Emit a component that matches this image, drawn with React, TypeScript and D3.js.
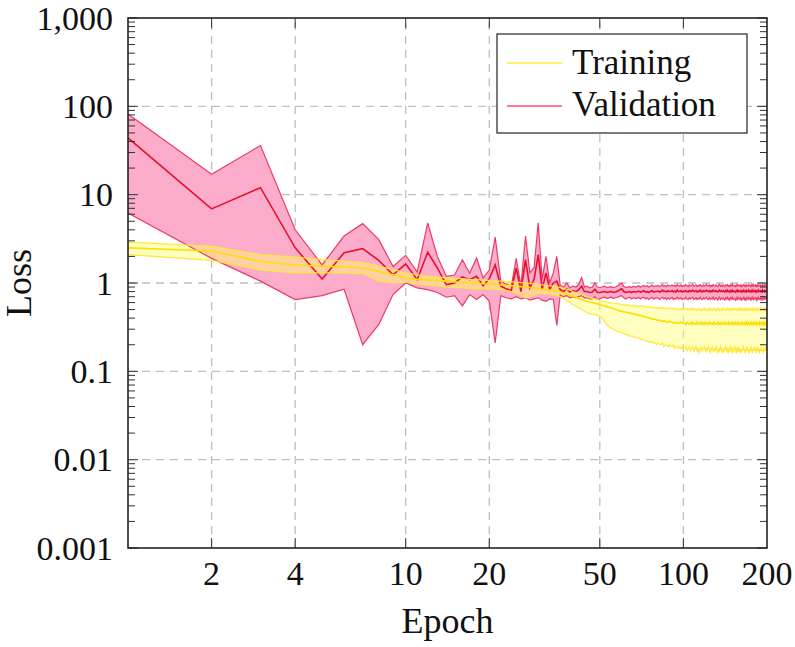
import React from "react";
import * as d3 from "d3";

// Epochs 1..200
const epochs: number[] = d3.range(1, 201);

// Validation loss: mean, upper and lower band
const valMean: number[] = [
  44, 6.9, 12, 2.5, 1.11, 2.2, 2.45, 1.8, 1.24, 1.64,
  1.09, 2.23, 1.48, 0.96, 1.0, 1.17, 1.09, 1.19, 0.93, 1.12,
  1.6, 0.92, 0.86, 0.82, 1.48, 0.8, 1.84, 0.88, 1.1, 2.1,
  0.85, 1.3, 0.85, 1.0, 1.05, 0.84, 0.8, 0.86, 0.79, 0.82,
  0.8, 0.84, 0.92, 0.8, 0.8, 0.78, 0.79, 0.85, 0.78, 0.78,
  0.79, 0.8, 0.78, 0.79, 0.8, 0.78, 0.79, 0.81, 0.84, 0.86,
  0.8, 0.78, 0.79, 0.8, 0.78, 0.8, 0.79, 0.79, 0.81, 0.79,
  0.8, 0.82, 0.79, 0.8, 0.78, 0.8, 0.82, 0.79, 0.8, 0.8,
  0.81, 0.79, 0.8, 0.83, 0.8, 0.81, 0.79, 0.82, 0.8, 0.8,
  0.82, 0.79, 0.81, 0.79, 0.83, 0.8, 0.8, 0.82, 0.79, 0.81,
  0.8, 0.82, 0.8, 0.79, 0.82, 0.8, 0.81, 0.83, 0.8, 0.8,
  0.82, 0.79, 0.81, 0.8, 0.83, 0.8, 0.79, 0.82, 0.8, 0.81,
  0.83, 0.8, 0.8, 0.82, 0.79, 0.81, 0.8, 0.83, 0.8, 0.8,
  0.82, 0.8, 0.79, 0.81, 0.83, 0.8, 0.81, 0.8, 0.82, 0.8,
  0.79, 0.82, 0.8, 0.83, 0.8, 0.81, 0.79, 0.82, 0.8, 0.83,
  0.8, 0.81, 0.8, 0.79, 0.82, 0.8, 0.83, 0.8, 0.81, 0.8,
  0.82, 0.79, 0.81, 0.8, 0.83, 0.8, 0.81, 0.79, 0.82, 0.8,
  0.8, 0.83, 0.8, 0.81, 0.79, 0.82, 0.8, 0.83, 0.8, 0.81,
  0.8, 0.82, 0.79, 0.81, 0.8, 0.83, 0.8, 0.81, 0.8, 0.82,
  0.8, 0.79, 0.83, 0.81, 0.8, 0.82, 0.8, 0.81, 0.83, 0.8,
];
const valUpper: number[] = [
  82, 17, 36, 4.0, 1.6, 3.4, 4.7, 3.1, 1.54, 2.06,
  1.33, 4.8, 2.0, 1.19, 1.23, 1.83, 1.29, 1.92, 1.14, 1.4,
  3.3, 1.05, 0.97, 0.92, 1.9, 0.92, 3.4, 1.3, 1.5, 4.8,
  1.1, 2.0, 1.0, 1.3, 2.0, 0.95, 0.9, 1.0, 0.88, 0.92,
  0.9, 0.96, 1.15, 0.9, 0.92, 0.88, 0.9, 1.0, 0.9, 0.89,
  0.9, 0.92, 0.89, 0.9, 0.91, 0.89, 0.9, 0.93, 0.97, 1.0,
  0.92, 0.89, 0.9, 0.91, 0.89, 0.92, 0.9, 0.91, 0.93, 0.9,
  0.92, 0.94, 0.91, 0.93, 0.9, 0.92, 0.95, 0.91, 0.93, 0.92,
  0.94, 0.91, 0.93, 0.96, 0.92, 0.94, 0.91, 0.95, 0.93, 0.92,
  0.95, 0.92, 0.94, 0.91, 0.96, 0.93, 0.92, 0.95, 0.91, 0.94,
  0.92, 0.96, 0.93, 0.91, 0.95, 0.92, 0.94, 0.97, 0.92, 0.93,
  0.95, 0.91, 0.94, 0.92, 0.96, 0.93, 0.91, 0.95, 0.92, 0.94,
  0.97, 0.92, 0.93, 0.95, 0.91, 0.94, 0.92, 0.96, 0.93, 0.92,
  0.95, 0.93, 0.91, 0.94, 0.97, 0.92, 0.94, 0.92, 0.95, 0.93,
  0.91, 0.95, 0.93, 0.96, 0.92, 0.94, 0.91, 0.95, 0.93, 0.97,
  0.92, 0.94, 0.93, 0.91, 0.95, 0.92, 0.96, 0.93, 0.94, 0.92,
  0.95, 0.91, 0.94, 0.93, 0.96, 0.92, 0.94, 0.91, 0.95, 0.93,
  0.92, 0.96, 0.93, 0.94, 0.91, 0.95, 0.93, 0.97, 0.92, 0.94,
  0.93, 0.95, 0.91, 0.94, 0.92, 0.96, 0.93, 0.94, 0.92, 0.95,
  0.93, 0.91, 0.96, 0.94, 0.92, 0.95, 0.93, 0.94, 0.97, 0.93,
];
const valLower: number[] = [
  6.2, 1.9, 1.05, 0.65, 0.72, 0.85, 0.2, 0.34, 0.74, 1.0,
  0.88, 0.84, 0.78, 0.69, 0.72, 0.55, 0.74, 0.65, 0.74, 0.62,
  0.21, 0.72, 0.68, 0.66, 0.7, 0.66, 0.68, 0.64, 0.66, 0.68,
  0.64, 0.62, 0.66, 0.65, 0.33, 0.73, 0.7, 0.72, 0.68, 0.7,
  0.68, 0.7, 0.72, 0.68, 0.68, 0.66, 0.66, 0.7, 0.65, 0.66,
  0.68, 0.69, 0.67, 0.68, 0.69, 0.67, 0.68, 0.69, 0.71, 0.72,
  0.68, 0.66, 0.68, 0.69, 0.66, 0.68, 0.67, 0.67, 0.69, 0.66,
  0.68, 0.69, 0.66, 0.68, 0.65, 0.67, 0.69, 0.66, 0.67, 0.68,
  0.68, 0.65, 0.67, 0.69, 0.66, 0.68, 0.65, 0.68, 0.66, 0.67,
  0.69, 0.65, 0.67, 0.66, 0.69, 0.66, 0.67, 0.68, 0.65, 0.67,
  0.66, 0.69, 0.66, 0.65, 0.68, 0.66, 0.67, 0.69, 0.65, 0.66,
  0.68, 0.65, 0.67, 0.66, 0.69, 0.66, 0.65, 0.68, 0.66, 0.67,
  0.69, 0.66, 0.65, 0.68, 0.65, 0.67, 0.66, 0.69, 0.65, 0.66,
  0.68, 0.66, 0.64, 0.67, 0.69, 0.65, 0.67, 0.66, 0.68, 0.65,
  0.64, 0.68, 0.66, 0.69, 0.65, 0.67, 0.64, 0.68, 0.66, 0.69,
  0.65, 0.67, 0.66, 0.64, 0.68, 0.65, 0.69, 0.66, 0.67, 0.65,
  0.68, 0.64, 0.67, 0.66, 0.69, 0.65, 0.67, 0.64, 0.68, 0.66,
  0.65, 0.69, 0.66, 0.67, 0.64, 0.68, 0.66, 0.69, 0.65, 0.67,
  0.66, 0.68, 0.64, 0.67, 0.65, 0.69, 0.66, 0.67, 0.65, 0.68,
  0.66, 0.64, 0.69, 0.67, 0.65, 0.68, 0.66, 0.67, 0.69, 0.65,
];

// Training loss: mean, upper and lower band
const trainMean: number[] = [
  2.5, 2.3, 1.76, 1.6, 1.55, 1.52, 1.48, 1.35, 1.24, 1.14,
  1.1, 1.09, 1.07, 1.05, 1.03, 1.02, 1.0, 0.99, 0.98, 0.97,
  0.96, 0.95, 0.94, 0.93, 0.92, 0.91, 0.9, 0.89, 0.88, 0.86,
  0.85, 0.84, 0.83, 0.82, 0.81, 0.79, 0.77, 0.75, 0.73, 0.71,
  0.69, 0.67, 0.65, 0.63, 0.62, 0.61, 0.6, 0.59, 0.58, 0.57,
  0.56, 0.55, 0.54, 0.53, 0.52, 0.51, 0.5, 0.49, 0.48, 0.48,
  0.47, 0.47, 0.46, 0.46, 0.45, 0.45, 0.44, 0.44, 0.43, 0.43,
  0.42, 0.42, 0.41, 0.41, 0.4, 0.4, 0.39, 0.39, 0.39, 0.38,
  0.38, 0.38, 0.37, 0.37, 0.37, 0.37, 0.36, 0.36, 0.37, 0.36,
  0.36, 0.35, 0.36, 0.35, 0.36, 0.35, 0.35, 0.36, 0.35, 0.35,
  0.35, 0.34, 0.36, 0.35, 0.34, 0.35, 0.36, 0.34, 0.35, 0.35,
  0.34, 0.36, 0.35, 0.34, 0.35, 0.36, 0.34, 0.35, 0.34, 0.36,
  0.35, 0.34, 0.35, 0.36, 0.34, 0.35, 0.35, 0.34, 0.36, 0.35,
  0.34, 0.35, 0.36, 0.34, 0.35, 0.34, 0.36, 0.35, 0.34, 0.35,
  0.36, 0.34, 0.35, 0.35, 0.34, 0.36, 0.35, 0.34, 0.35, 0.36,
  0.34, 0.35, 0.34, 0.36, 0.35, 0.34, 0.35, 0.36, 0.34, 0.35,
  0.35, 0.34, 0.36, 0.35, 0.34, 0.35, 0.34, 0.36, 0.35, 0.34,
  0.36, 0.35, 0.34, 0.35, 0.36, 0.34, 0.35, 0.34, 0.36, 0.35,
  0.34, 0.35, 0.36, 0.34, 0.35, 0.35, 0.34, 0.36, 0.35, 0.34,
  0.35, 0.36, 0.34, 0.35, 0.34, 0.36, 0.35, 0.34, 0.36, 0.35,
];
const trainUpper: number[] = [
  2.9, 2.6, 2.1, 1.97, 1.84, 1.77, 1.7, 1.55, 1.42, 1.3,
  1.24, 1.19, 1.17, 1.15, 1.13, 1.12, 1.1, 1.09, 1.08, 1.07,
  1.06, 1.05, 1.04, 1.03, 1.02, 1.01, 1.0, 0.99, 0.98, 0.96,
  0.95, 0.94, 0.93, 0.92, 0.91, 0.89, 0.87, 0.85, 0.83, 0.8,
  0.78, 0.76, 0.74, 0.72, 0.7, 0.68, 0.67, 0.66, 0.65, 0.63,
  0.62, 0.62, 0.61, 0.6, 0.6, 0.59, 0.59, 0.58, 0.58, 0.57,
  0.57, 0.56, 0.57, 0.56, 0.55, 0.56, 0.55, 0.55, 0.54, 0.55,
  0.54, 0.55, 0.53, 0.54, 0.53, 0.54, 0.52, 0.53, 0.53, 0.52,
  0.53, 0.52, 0.52, 0.53, 0.51, 0.52, 0.52, 0.51, 0.52, 0.51,
  0.52, 0.5, 0.51, 0.52, 0.5, 0.51, 0.5, 0.52, 0.5, 0.51,
  0.5, 0.52, 0.5, 0.51, 0.49, 0.51, 0.5, 0.52, 0.49, 0.5,
  0.51, 0.49, 0.5, 0.52, 0.5, 0.49, 0.51, 0.5, 0.52, 0.49,
  0.5, 0.51, 0.49, 0.52, 0.5, 0.51, 0.49, 0.5, 0.52, 0.5,
  0.49, 0.51, 0.5, 0.52, 0.49, 0.5, 0.51, 0.49, 0.52, 0.5,
  0.51, 0.49, 0.5, 0.52, 0.5, 0.51, 0.49, 0.51, 0.5, 0.52,
  0.49, 0.5, 0.52, 0.5, 0.51, 0.49, 0.5, 0.52, 0.49, 0.51,
  0.5, 0.52, 0.49, 0.51, 0.5, 0.49, 0.52, 0.5, 0.51, 0.49,
  0.51, 0.5, 0.52, 0.49, 0.5, 0.51, 0.49, 0.52, 0.5, 0.51,
  0.49, 0.51, 0.5, 0.52, 0.49, 0.5, 0.51, 0.5, 0.52, 0.49,
  0.5, 0.52, 0.49, 0.51, 0.5, 0.52, 0.49, 0.51, 0.5, 0.52,
];
const trainLower: number[] = [
  2.1, 1.8, 1.41, 1.3, 1.3, 1.3, 1.28, 1.05, 1.0, 1.02,
  0.97, 0.95, 0.93, 0.9, 0.89, 0.88, 0.87, 0.86, 0.86, 0.85,
  0.85, 0.84, 0.82, 0.8, 0.77, 0.72, 0.68, 0.69, 0.74, 0.76,
  0.76, 0.76, 0.75, 0.74, 0.73, 0.7, 0.67, 0.63, 0.6, 0.57,
  0.55, 0.52, 0.5, 0.48, 0.46, 0.45, 0.44, 0.44, 0.43, 0.42,
  0.4, 0.37, 0.34, 0.32, 0.31, 0.3, 0.29, 0.28, 0.28, 0.27,
  0.27, 0.26, 0.26, 0.25, 0.25, 0.25, 0.24, 0.24, 0.24, 0.23,
  0.23, 0.23, 0.22, 0.22, 0.22, 0.21, 0.22, 0.21, 0.21, 0.2,
  0.21, 0.2, 0.2, 0.21, 0.19, 0.2, 0.2, 0.19, 0.2, 0.19,
  0.19, 0.2, 0.18, 0.19, 0.19, 0.18, 0.19, 0.18, 0.19, 0.18,
  0.18, 0.19, 0.17, 0.18, 0.19, 0.17, 0.18, 0.19, 0.17, 0.18,
  0.19, 0.17, 0.18, 0.16, 0.18, 0.19, 0.17, 0.18, 0.19, 0.17,
  0.18, 0.17, 0.19, 0.18, 0.16, 0.18, 0.19, 0.17, 0.18, 0.17,
  0.19, 0.18, 0.16, 0.18, 0.17, 0.19, 0.18, 0.16, 0.18, 0.17,
  0.18, 0.19, 0.17, 0.18, 0.16, 0.18, 0.17, 0.19, 0.18, 0.16,
  0.18, 0.17, 0.19, 0.18, 0.16, 0.18, 0.17, 0.19, 0.17, 0.18,
  0.16, 0.18, 0.17, 0.19, 0.18, 0.17, 0.16, 0.18, 0.19, 0.17,
  0.18, 0.16, 0.18, 0.17, 0.19, 0.18, 0.16, 0.18, 0.17, 0.19,
  0.17, 0.18, 0.16, 0.19, 0.18, 0.17, 0.18, 0.16, 0.18, 0.17,
  0.19, 0.17, 0.18, 0.16, 0.18, 0.17, 0.19, 0.17, 0.18, 0.19,
];

const xTicks: number[] = [2, 4, 10, 20, 50, 100, 200];
const xTickLabels: string[] = ["2", "4", "10", "20", "50", "100", "200"];
const yTicks: number[] = [0.001, 0.01, 0.1, 1, 10, 100, 1000];
const yTickLabels: string[] = ["0.001", "0.01", "0.1", "1", "10", "100", "1,000"];
const seriesNames: string[] = ["Training", "Validation"];

const W = 795;
const H = 647;
const L = 128, R = 767, T = 18, B = 548;
const FONT = "Liberation Serif, DejaVu Serif, serif";
const TS = { fontFamily: FONT };

export default function App() {
  const x = d3.scaleLog().domain([1, 200]).range([L, R]);
  const y = d3.scaleLog().domain([0.001, 1000]).range([B, T]);

  const area = (lo: number[], hi: number[]) =>
    d3
      .area<number>()
      .x((_, i) => x(epochs[i]))
      .y0((_, i) => y(lo[i]))
      .y1((_, i) => y(hi[i]))(epochs) || "";
  const line = (v: number[]) =>
    d3
      .line<number>()
      .x((_, i) => x(epochs[i]))
      .y((_, i) => y(v[i]))(epochs) || "";

  const minorY: number[] = [];
  [0.001, 0.01, 0.1, 1, 10, 100].forEach((d) => {
    for (let k = 2; k <= 9; k++) minorY.push(d * k);
  });

  const valFill = "#fcaccb";
  const valEdge = "#ee3a66";
  const valLine = "#e8102c";
  const trFill = "#ffff70";
  const trEdge = "#ffe838";
  const trLine = "#ffdf00";

  return (
    <svg
      width={W}
      height={H}
      viewBox={`0 0 ${W} ${H}`}
      style={{ position: "absolute", left: 0, top: 0, background: "#fff" }}
    >
      <defs>
        <clipPath id="plotclip">
          <rect x={L} y={T} width={R - L} height={B - T} />
        </clipPath>
      </defs>
      <rect x={0} y={0} width={W} height={H} fill="#fff" />

      {/* grid */}
      <g stroke="#b7c2c2" strokeWidth={1.3} strokeDasharray="8,6">
        {xTicks.slice(0, -1).map((t) => (
          <line key={"gx" + t} x1={x(t)} x2={x(t)} y1={B} y2={T} />
        ))}
        {yTicks.slice(1, -1).map((t) => (
          <line key={"gy" + t} x1={L} x2={R} y1={y(t)} y2={y(t)} />
        ))}
      </g>

      {/* data */}
      <g clipPath="url(#plotclip)">
        <path d={area(valLower, valUpper)} fill={valFill} stroke="none" />
        <path d={area(trainLower, trainUpper)} fill={trFill} fillOpacity={0.45} stroke="none" />
        <path d={line(valUpper)} fill="none" stroke={valEdge} strokeWidth={1.2} />
        <path d={line(valLower)} fill="none" stroke={valEdge} strokeWidth={1.2} />
        <path d={line(valMean)} fill="none" stroke={valLine} strokeWidth={1.6} />
        <path d={line(trainUpper)} fill="none" stroke={trEdge} strokeWidth={1.2} />
        <path d={line(trainLower)} fill="none" stroke={trEdge} strokeWidth={1.2} />
        <path d={line(trainMean)} fill="none" stroke={trLine} strokeWidth={1.6} />
      </g>

      {/* ticks */}
      <g stroke="#333" strokeWidth={1}>
        {xTicks.slice(0, -1).map((t) => (
          <g key={"xt" + t}>
            <line x1={x(t)} x2={x(t)} y1={B} y2={B - 10} />
            <line x1={x(t)} x2={x(t)} y1={T} y2={T + 10} />
          </g>
        ))}
        {yTicks.map((t) => (
          <g key={"yt" + t}>
            <line x1={L} x2={L + 10} y1={y(t)} y2={y(t)} />
            <line x1={R} x2={R - 10} y1={y(t)} y2={y(t)} />
          </g>
        ))}
        {minorY.map((t) => (
          <g key={"ym" + t}>
            <line x1={L} x2={L + 7} y1={y(t)} y2={y(t)} />
            <line x1={R} x2={R - 7} y1={y(t)} y2={y(t)} />
          </g>
        ))}
      </g>

      {/* frame */}
      <rect x={L} y={T} width={R - L} height={B - T} fill="none" stroke="#222" strokeWidth={1.6} />

      {/* tick labels */}
      <g fontSize={34} fill="#111">
        {xTicks.map((t, i) => (
          <text key={"xl" + t} x={x(t)} y={585} textAnchor="middle" style={TS}>
            {xTickLabels[i]}
          </text>
        ))}
        {yTicks.map((t, i) => (
          <text key={"yl" + t} x={113} y={y(t)} dy="0.34em" textAnchor="end" style={TS}>
            {yTickLabels[i]}
          </text>
        ))}
      </g>

      {/* axis titles */}
      <text x={(L + R) / 2} y={633} textAnchor="middle" fontSize={36} fill="#111" style={TS}>
        Epoch
      </text>
      <text
        transform={`translate(31, ${(T + B) / 2}) rotate(-90)`}
        textAnchor="middle"
        fontSize={36}
        fill="#111"
        style={TS}
      >
        Loss
      </text>

      {/* legend */}
      <g>
        <rect x={497} y={34} width={250} height={99} fill="#fff" stroke="#333" strokeWidth={1.3} />
        <line x1={507} x2={562} y1={63} y2={63} stroke="#ffec3a" strokeWidth={1.6} />
        <line x1={507} x2={562} y1={106} y2={106} stroke="#f2506f" strokeWidth={1.6} />
        <text x={572} y={74} fontSize={35} fill="#111" style={TS}>
          {seriesNames[0]}
        </text>
        <text x={572} y={116} fontSize={35} fill="#111" style={TS}>
          {seriesNames[1]}
        </text>
      </g>
    </svg>
  );
}
